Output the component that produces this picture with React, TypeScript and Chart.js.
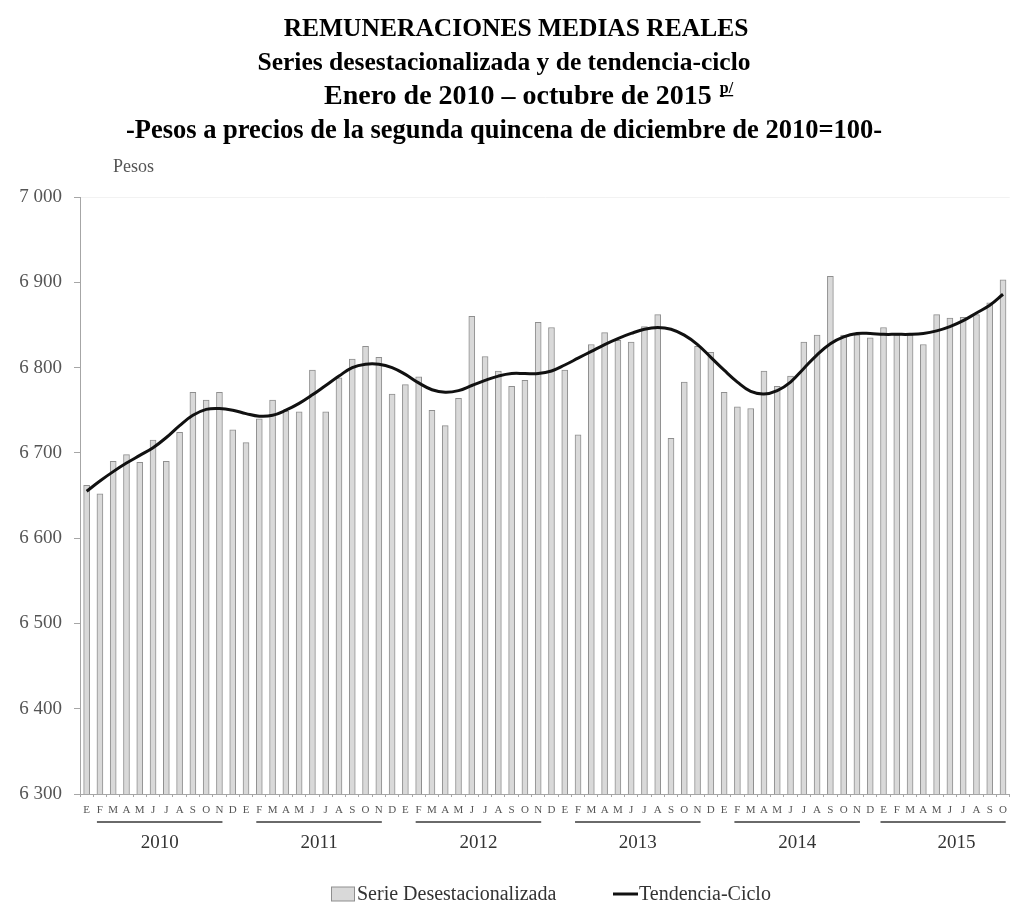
import React, { useEffect, useRef } from "react";
import { Chart, registerables } from "chart.js";

Chart.register(...registerables);

// ---------- DATA ----------
const MONTH_LETTERS = ["E", "F", "M", "A", "M", "J", "J", "A", "S", "O", "N", "D"];
const YEARS = ["2010", "2011", "2012", "2013", "2014", "2015"];
const MONTH_COUNT = 70; // enero 2010 - octubre 2015

const categories: string[] = YEARS.flatMap(() => MONTH_LETTERS).slice(0, MONTH_COUNT);

const serieDesestacionalizada = [
  6662, 6652, 6690, 6698, 6689, 6715, 6690, 6724, 6771, 6762, 6771, 6727,
  6712, 6740, 6762, 6749, 6748, 6797, 6748, 6788, 6810, 6825, 6812, 6769,
  6780, 6789, 6750, 6732, 6764, 6860, 6813, 6796, 6778, 6785, 6853, 6847,
  6797, 6721, 6827, 6841, 6832, 6830, 6848, 6862, 6717, 6783, 6825, 6818,
  6771, 6754, 6752, 6796, 6778, 6790, 6830, 6838, 6907, 6838, 6838, 6835,
  6847, 6838, 6838, 6827, 6862, 6858, 6859, 6862, 6876, 6903,
];

const tendenciaCiclo = [
  6655, 6667, 6678, 6688, 6697, 6706, 6718, 6732, 6744, 6751, 6752, 6750,
  6746, 6743, 6744, 6750, 6758, 6768, 6779, 6790, 6800, 6804, 6804, 6800,
  6792, 6782, 6774, 6771, 6773, 6779, 6785, 6790, 6793, 6793, 6793, 6796,
  6803, 6811, 6819, 6827, 6834, 6840, 6845, 6847, 6845, 6838, 6827, 6812,
  6797, 6783, 6772, 6769, 6773, 6783, 6799, 6815, 6828, 6836, 6840, 6840,
  6839, 6839, 6839, 6840, 6843, 6848, 6855, 6864, 6873, 6886,
];

const Y_MIN = 6300;
const Y_MAX = 7000;
const Y_STEP = 100;

// index ranges (first, last month) under each year's underline
const YEAR_LINE_START = [1, 13, 25, 37, 49, 60];
const YEAR_LINE_END = [10, 22, 34, 46, 58, 69];

const TITLE_LINES = [
  "REMUNERACIONES MEDIAS REALES",
  "Series desestacionalizada y de tendencia-ciclo",
  "Enero de 2010 \u2013 octubre de 2015",
  "-Pesos a precios de la segunda quincena de diciembre de 2010=100-",
];
const TITLE_NOTE = "p/";
const UNIT_LABEL = "Pesos";
const SERIES_LABELS = ["Serie Desestacionalizada", "Tendencia-Ciclo"];

// ---------- STYLE ----------
const SERIF = '"Liberation Serif", "Times New Roman", serif';
const BAR_FILL = "#d9d9d9";
const BAR_EDGE = "#8f8f8f";
const AXIS_COLOR = "#a6a6a6";

const formatThousands = (v: number) => {
  const s = String(Math.round(v));
  return s.length > 3 ? s.slice(0, s.length - 3) + " " + s.slice(s.length - 3) : s;
};

const decorPlugin = {
  id: "decor",
  afterDraw(chart: any) {
    const ctx = chart.ctx as CanvasRenderingContext2D;
    const xs = chart.scales.x;
    const area = chart.chartArea;
    ctx.save();

    // Title
    ctx.fillStyle = "#000";
    ctx.textBaseline = "alphabetic";
    ctx.textAlign = "center";
    ctx.font = `bold 25.5px ${SERIF}`;
    ctx.fillText(TITLE_LINES[0], 516, 36);
    ctx.font = `bold 25.5px ${SERIF}`;
    ctx.fillText(TITLE_LINES[1], 504, 70);

    ctx.textAlign = "left";
    ctx.font = `bold 28px ${SERIF}`;
    const l3w = ctx.measureText(TITLE_LINES[2]).width;
    const l3x = 324;
    ctx.fillText(TITLE_LINES[2], l3x, 104);
    ctx.font = `bold 16px ${SERIF}`;
    const noteW = ctx.measureText(TITLE_NOTE).width;
    const nx = l3x + l3w + 8;
    ctx.fillText(TITLE_NOTE, nx, 93);
    ctx.fillRect(nx, 95, noteW, 1.3);

    ctx.textAlign = "center";
    ctx.font = `bold 26.5px ${SERIF}`;
    ctx.fillText(TITLE_LINES[3], 504, 138);

    // Unit label
    ctx.font = `18px ${SERIF}`;
    ctx.fillStyle = "#555";
    ctx.textAlign = "left";
    ctx.fillText(UNIT_LABEL, 113, 172);

    // Year underlines and labels
    const bottom = area.bottom;
    ctx.strokeStyle = "#6a6a6a";
    ctx.lineWidth = 2;
    ctx.fillStyle = "#333";
    ctx.textAlign = "center";
    ctx.textBaseline = "middle";
    ctx.font = `19px ${SERIF}`;
    YEARS.forEach((y, k) => {
      const x0 = xs.getPixelForValue(YEAR_LINE_START[k]) - 3;
      const x1 = Math.min(xs.getPixelForValue(YEAR_LINE_END[k]) + 3, area.right - 4);
      ctx.beginPath();
      ctx.moveTo(x0, bottom + 28);
      ctx.lineTo(x1, bottom + 28);
      ctx.stroke();
      const c = xs.getPixelForValue(k * 12 + 5.5);
      ctx.fillText(y, c, bottom + 49);
    });

    // Legend
    const ly = 894;
    ctx.font = `20px ${SERIF}`;
    ctx.textAlign = "left";
    ctx.fillStyle = BAR_FILL;
    ctx.fillRect(331.5, ly - 7, 23, 14);
    ctx.strokeStyle = BAR_EDGE;
    ctx.lineWidth = 1;
    ctx.strokeRect(331.5, ly - 7, 23, 14);
    ctx.fillStyle = "#333";
    ctx.fillText(SERIES_LABELS[0], 357, ly + 1);
    ctx.strokeStyle = "#111";
    ctx.lineWidth = 3;
    ctx.beginPath();
    ctx.moveTo(613, ly);
    ctx.lineTo(638, ly);
    ctx.stroke();
    ctx.fillText(SERIES_LABELS[1], 639, ly + 1);

    ctx.restore();
  },
};

export default function App() {
  const ref = useRef<HTMLCanvasElement | null>(null);

  useEffect(() => {
    if (!ref.current) return;
    const chart = new Chart(ref.current, {
      type: "bar",
      data: {
        labels: categories,
        datasets: [
          {
            type: "line",
            label: SERIES_LABELS[1],
            data: tendenciaCiclo,
            borderColor: "#111",
            borderWidth: 3,
            pointRadius: 0,
            tension: 0.4,
            fill: false,
            order: 1,
          } as any,
          {
            type: "bar",
            label: SERIES_LABELS[0],
            data: serieDesestacionalizada,
            backgroundColor: BAR_FILL,
            borderColor: BAR_EDGE,
            borderWidth: 1,
            barThickness: 6,
            order: 2,
          },
        ],
      },
      options: {
        responsive: false,
        animation: false,
        events: [],
        layout: { padding: { top: 197, bottom: 100, left: 0, right: 0 } },
        plugins: {
          legend: { display: false },
          title: { display: false },
          tooltip: { enabled: false },
        },
        scales: {
          x: {
            offset: true,
            grid: {
              offset: true,
              drawOnChartArea: false,
              drawTicks: true,
              tickLength: 3,
              color: AXIS_COLOR,
            },
            border: { display: true, color: AXIS_COLOR, width: 1 },
            ticks: {
              autoSkip: false,
              maxRotation: 0,
              minRotation: 0,
              padding: 7,
              color: "#555",
              font: { family: SERIF, size: 11 },
            },
            afterFit: (s: any) => {
              s.height = 20;
            },
          },
          y: {
            min: Y_MIN,
            max: Y_MAX,
            grid: {
              drawOnChartArea: true,
              tickLength: 6,
              color: (c: any) => (c.tick && c.tick.value === Y_MAX ? "#f2f2f2" : "rgba(0,0,0,0)"),
              tickColor: AXIS_COLOR,
            },
            border: { display: true, color: AXIS_COLOR, width: 1 },
            ticks: {
              stepSize: Y_STEP,
              padding: 12,
              color: "#555",
              font: { family: SERIF, size: 19 },
              callback: (v: any) => formatThousands(Number(v)),
            },
            afterFit: (s: any) => {
              s.width = 80;
            },
          },
        },
      },
      plugins: [decorPlugin],
    });
    return () => chart.destroy();
  }, []);

  return (
    <div style={{ position: "absolute", left: 0, top: 0, width: 1014, height: 914, background: "#fff" }}>
      <canvas ref={ref} width={1014} height={914} style={{ display: "block" }} />
    </div>
  );
}
